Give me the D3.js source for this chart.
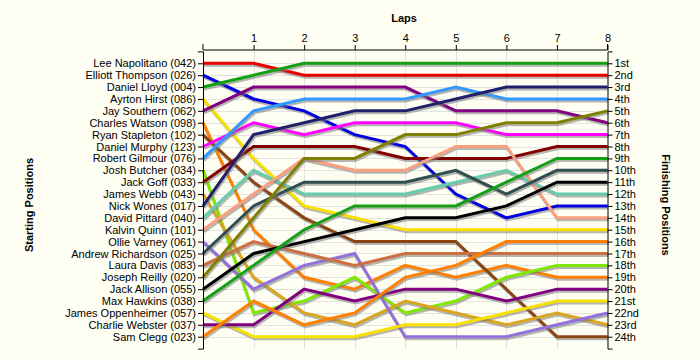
<!DOCTYPE html>
<html>
<head>
<meta charset="utf-8">
<script src="https://cdn.jsdelivr.net/npm/d3@7"></script>
<style>
  html, body { margin: 0; padding: 0; background: #fefef2; }
  svg { display: block; }
  text { font-family: "Liberation Sans", Arial, sans-serif; }
</style>
</head>
<body>
<svg id="chart" width="700" height="360"></svg>
<script>
// ---- data ----
const drivers = [
  "Lee Napolitano (042)", "Elliott Thompson (026)", "Daniel Lloyd (004)", "Ayrton Hirst (086)",
  "Jay Southern (062)", "Charles Watson (098)", "Ryan Stapleton (102)", "Daniel Murphy (123)",
  "Robert Gilmour (076)", "Josh Butcher (034)", "Jack Goff (033)", "James Webb (043)",
  "Nick Wones (017)", "David Pittard (040)", "Kalvin Quinn (101)", "Ollie Varney (061)",
  "Andrew Richardson (025)", "Laura Davis (083)", "Joseph Reilly (020)", "Jack Allison (055)",
  "Max Hawkins (038)", "James Oppenheimer (057)", "Charlie Webster (037)", "Sam Clegg (023)"
];
const laps = [0, 1, 2, 3, 4, 5, 6, 7, 8];
const lapTicks = [1, 2, 3, 4, 5, 6, 7, 8];
const finishLabels = ["1st","2nd","3rd","4th","5th","6th","7th","8th","9th","10th","11th","12th",
  "13th","14th","15th","16th","17th","18th","19th","20th","21st","22nd","23rd","24th"];

const posLeeNapolitano     = [1, 1, 2, 2, 2, 2, 2, 2, 2];
const posElliottThompson   = [2, 4, 5, 7, 8, 12, 14, 13, 13];
const posDanielLloyd       = [3, 2, 1, 1, 1, 1, 1, 1, 1];
const posAyrtonHirst       = [4, 9, 13, 14, 15, 15, 15, 15, 15];
const posJaySouthern       = [5, 3, 3, 3, 3, 5, 5, 5, 6];
const posCharlesWatson     = [6, 15, 19, 20, 18, 19, 18, 19, 19];
const posRyanStapleton     = [7, 11, 14, 16, 16, 16, 20, 24, 24];
const posDanielMurphy      = [8, 6, 7, 6, 6, 6, 7, 7, 7];
const posRobertGilmour     = [9, 5, 4, 4, 4, 3, 4, 4, 4];
const posJoshButcher       = [10, 22, 21, 19, 22, 21, 19, 18, 18];
const posJackGoff          = [11, 8, 8, 8, 9, 9, 9, 8, 8];
const posJamesWebb         = [12, 19, 22, 23, 21, 22, 23, 22, 23];
const posNickWones         = [13, 7, 6, 5, 5, 4, 3, 3, 3];
const posDavidPittard      = [14, 10, 12, 12, 12, 11, 10, 12, 12];
const posKalvinQuinn       = [15, 12, 9, 10, 10, 8, 8, 14, 14];
const posOllieVarney       = [16, 20, 18, 17, 24, 24, 24, 23, 22];
const posAndrewRichardson  = [17, 13, 11, 11, 11, 10, 12, 10, 10];
const posLauraDavis        = [18, 16, 17, 18, 17, 17, 17, 17, 17];
const posJosephReilly      = [19, 14, 9, 9, 7, 7, 6, 6, 5];
const posJackAllison       = [20, 17, 16, 15, 14, 14, 13, 11, 11];
const posMaxHawkins        = [21, 18, 15, 13, 13, 13, 11, 9, 9];
const posJamesOppenheimer  = [22, 24, 24, 24, 23, 23, 22, 21, 21];
const posCharlieWebster    = [23, 23, 20, 21, 20, 20, 21, 20, 20];
const posSamClegg          = [24, 21, 23, 22, 19, 18, 16, 16, 16];

const positions = [
  posLeeNapolitano, posElliottThompson, posDanielLloyd, posAyrtonHirst, posJaySouthern,
  posCharlesWatson, posRyanStapleton, posDanielMurphy, posRobertGilmour, posJoshButcher,
  posJackGoff, posJamesWebb, posNickWones, posDavidPittard, posKalvinQuinn, posOllieVarney,
  posAndrewRichardson, posLauraDavis, posJosephReilly, posJackAllison, posMaxHawkins,
  posJamesOppenheimer, posCharlieWebster, posSamClegg
];
const colors = [
  "#e80000", "#0000e0", "#14a014", "#f8e000", "#800080",
  "#ff8000", "#8b4513", "#ff00ff", "#3399ff", "#80e800",
  "#800000", "#daa520", "#20206a", "#66cdaa", "#f8a080", "#9370db",
  "#2f4f4f", "#cd7040", "#808000", "#000000", "#14a014",
  "#f8e000", "#800080", "#ff8000"
];

// ---- layout ----
const svg = d3.select("#chart");
const x = d3.scaleLinear().domain([0, 8]).range([203, 607.5]);
const y = d3.scaleLinear().domain([0, 25]).range([51.4, 348.6]);
const axisTop = 50;

// grid
const grid = svg.append("g");
grid.selectAll("line.h").data(d3.range(1, 25)).join("line")
  .attr("x1", x(0)).attr("x2", x(8))
  .attr("y1", d => Math.round(y(d)) + 0.5).attr("y2", d => Math.round(y(d)) + 0.5)
  .attr("stroke", "#e2e2e2").attr("stroke-width", 1);
grid.selectAll("line.v").data(lapTicks.slice(0, 7)).join("line")
  .attr("y1", axisTop).attr("y2", y(25))
  .attr("x1", d => Math.round(x(d)) + 0.5).attr("x2", d => Math.round(x(d)) + 0.5)
  .attr("stroke", "#e2e2e2").attr("stroke-width", 1);

// series
const line = d3.line().x((d, i) => x(laps[i])).y(d => y(d));
const series = svg.append("g");
positions.forEach((p, k) => {
  series.append("path").datum(p)
    .attr("d", line)
    .attr("fill", "none")
    .attr("stroke", "#7a7a7a")
    .attr("stroke-opacity", 0.55)
    .attr("stroke-width", 3)
    .attr("transform", "translate(1,2)");
  series.append("path").datum(p)
    .attr("d", line)
    .attr("fill", "none")
    .attr("stroke", colors[k])
    .attr("stroke-width", 3);
});

// axes
function styleAxis(g) {
  g.selectAll("path.domain").attr("stroke", "#000");
  g.selectAll(".tick line").attr("stroke", "#000");
  g.selectAll("text").attr("fill", "#000")
    .style("font-family", "'Liberation Sans', Arial, sans-serif").style("font-size", "11px");
}
const leftAxis = svg.append("g").attr("transform", `translate(${x(0)},0)`)
  .call(d3.axisLeft(y).tickValues(d3.range(1, 25)).tickFormat(d => drivers[d - 1]).tickSize(5).tickPadding(2));
styleAxis(leftAxis);
const rightAxis = svg.append("g").attr("transform", `translate(${x(8)},0)`)
  .call(d3.axisRight(y).tickValues(d3.range(1, 25)).tickFormat(d => finishLabels[d - 1]).tickSize(5).tickPadding(2));
styleAxis(rightAxis);
const topAxis = svg.append("g").attr("transform", `translate(0,${axisTop})`)
  .call(d3.axisTop(x).tickValues(lapTicks).tickFormat(d3.format("d")).tickSize(5).tickPadding(3));
styleAxis(topAxis);
topAxis.select("path.domain").attr("d", `M${x(0)},-6V0H${x(8)}V-6`);

// titles
svg.append("text").attr("x", 404).attr("y", 22).attr("text-anchor", "middle")
  .style("font-weight", "bold").style("font-size", "11px").text("Laps");
svg.append("text").attr("transform", "translate(33,205) rotate(-90)").attr("text-anchor", "middle")
  .style("font-weight", "bold").style("font-size", "11px").text("Starting Positions");
svg.append("text").attr("transform", "translate(662,205) rotate(90)").attr("text-anchor", "middle")
  .style("font-weight", "bold").style("font-size", "11px").text("Finishing Positions");
</script>
</body>
</html>
